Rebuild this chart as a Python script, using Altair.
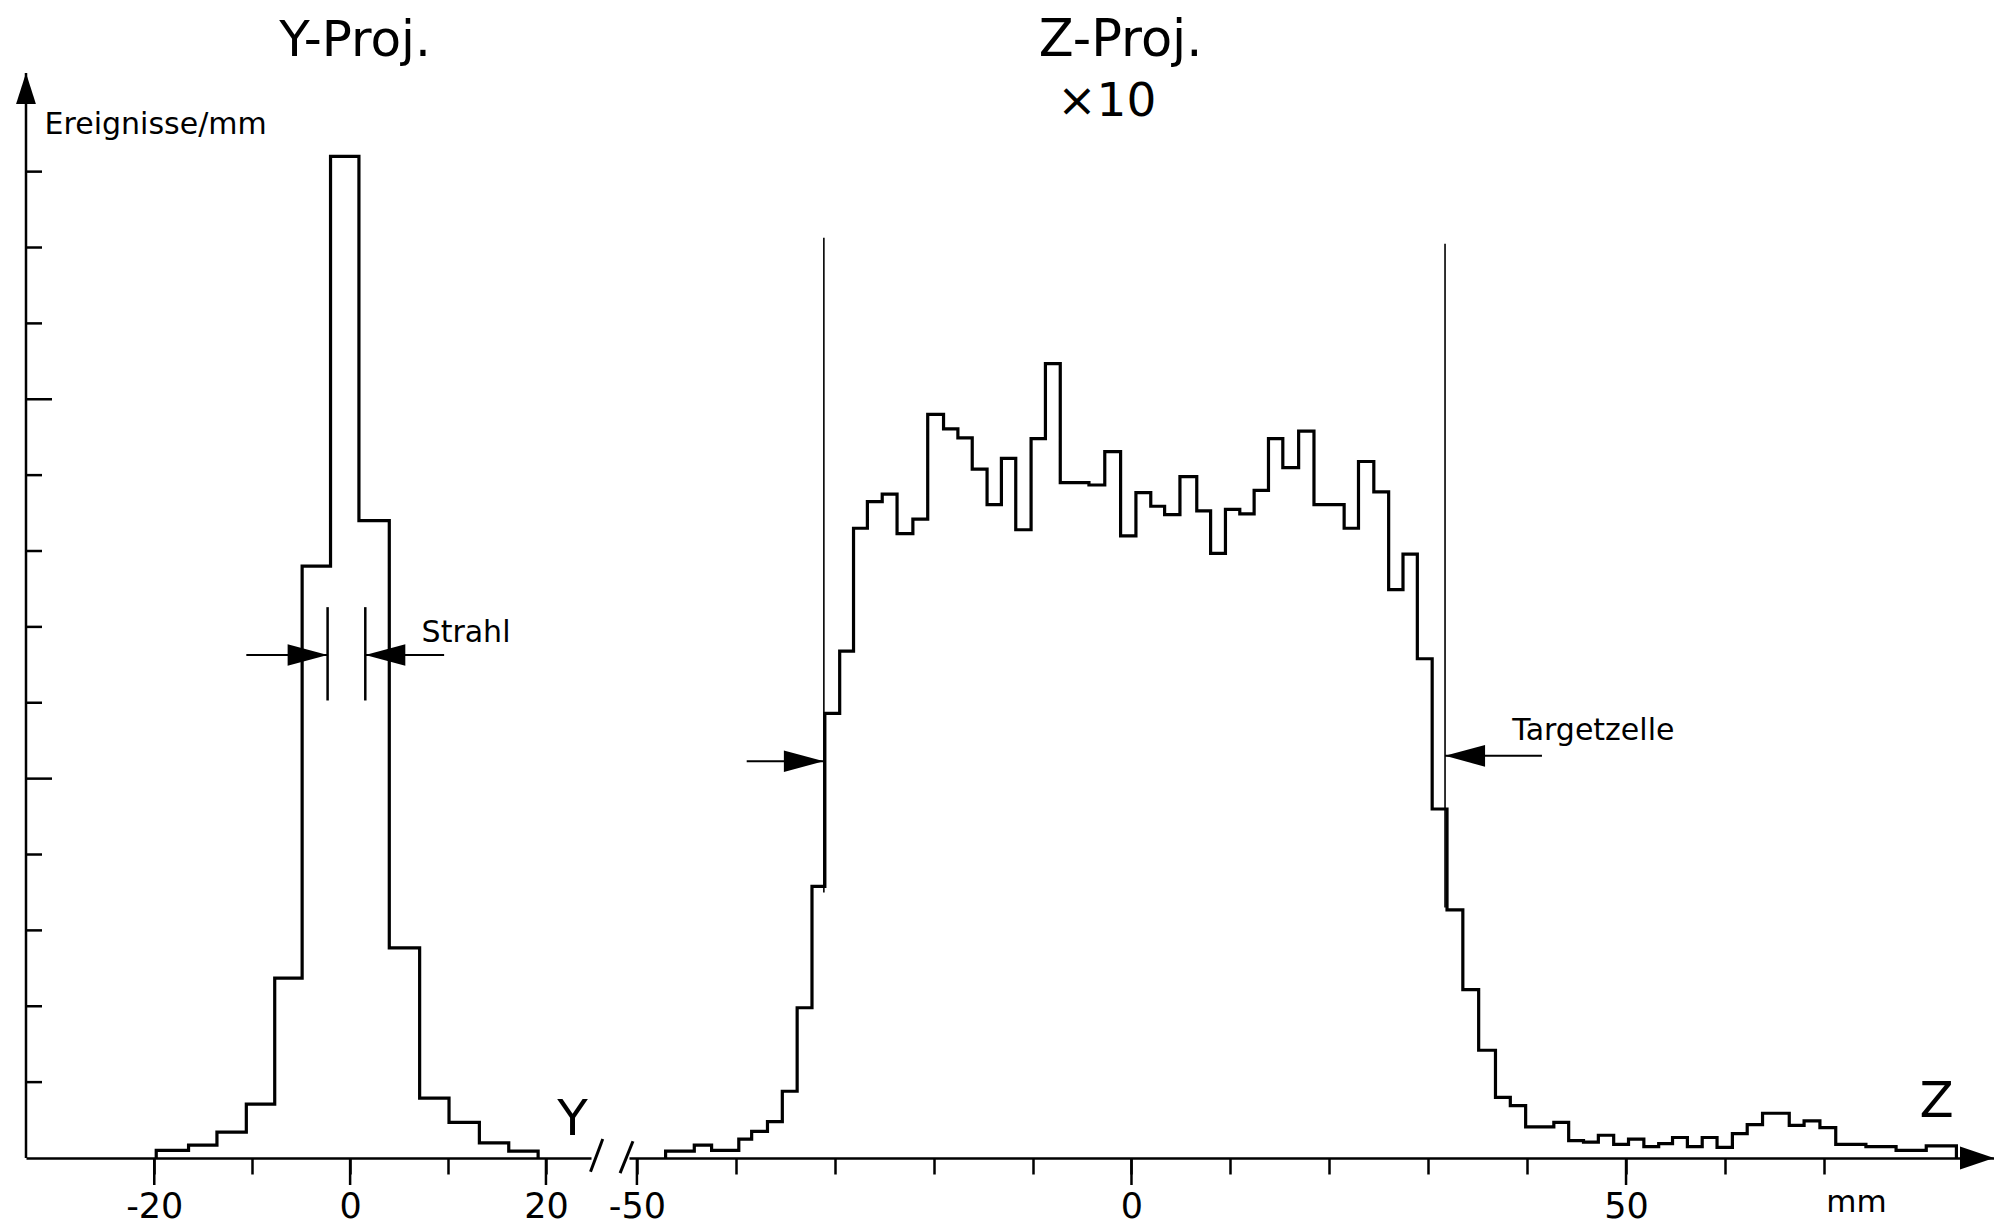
import altair as alt
import pandas as pd

FONT = "DejaVu Sans"

# ---------------- data ----------------
# Y projection: bin edges (mm) and heights (axis-tick units)
y_edges = [-19.8, -16.5, -13.6, -10.6, -7.7, -4.9, -2.0, 0.9, 4.0, 7.1, 10.1, 13.2, 16.2, 19.2]
y_counts = [0.10, 0.17, 0.34, 0.71, 2.37, 7.80, 13.2, 8.40, 2.77, 0.79, 0.47, 0.20, 0.09]

# Z projection (x10): bin edges (mm) and heights
z_edges = [-47.1, -45.6, -44.2, -42.45, -41.0, -39.7, -38.4, -36.8, -35.3, -33.8,
           -32.3, -31.0, -29.5, -28.1, -26.7, -25.2, -23.7, -22.1, -20.6, -19.0,
           -17.55, -16.1, -14.6, -13.15, -11.7, -10.15, -8.7, -7.2, -5.75, -4.3,
           -2.7, -1.1, 0.45, 1.95, 3.35, 4.9, 6.6, 8.0, 9.5, 10.95,
           12.4, 13.85, 15.3, 16.9, 18.45, 20.0, 21.5, 22.95, 24.5, 26.0,
           27.45, 28.9, 30.4, 31.9, 33.5, 35.1, 36.8, 38.3, 39.85, 41.3,
           42.7, 44.2, 45.7, 47.2, 48.75, 50.25, 51.8, 53.3, 54.7, 56.2,
           57.7, 59.2, 60.75, 62.25, 63.8, 65.15, 66.5, 68.0, 69.6, 71.2,
           72.7, 74.25, 75.8, 77.3, 78.8, 80.35, 81.85, 83.4]
z_counts = [0.09, 0.09, 0.17, 0.10, 0.10, 0.25, 0.35, 0.48, 0.88, 1.98,
            3.58, 5.86, 6.68, 8.30, 8.65, 8.75, 8.23, 8.42, 9.80, 9.61,
            9.49, 9.08, 8.61, 9.22, 8.28, 9.48, 10.47, 8.90, 8.90, 8.87,
            9.31, 8.20, 8.77, 8.59, 8.48, 8.98, 8.53, 7.97, 8.55, 8.49,
            8.80, 9.48, 9.10, 9.58, 8.61, 8.61, 8.30, 9.18, 8.78, 7.49,
            7.96, 6.58, 4.60, 3.27, 2.22, 1.42, 0.80, 0.69, 0.41, 0.41,
            0.47, 0.23, 0.21, 0.30, 0.18, 0.25, 0.15, 0.19, 0.27, 0.15,
            0.27, 0.14, 0.32, 0.44, 0.59, 0.59, 0.43, 0.49, 0.40, 0.18,
            0.18, 0.15, 0.15, 0.10, 0.10, 0.16, 0.16]

# axis ticks
vert_ticks_short = [1, 2, 3, 4, 6, 7, 8, 9, 11, 12, 13]
vert_ticks_long = [5, 10]
y_proj_ticks = [-20, -10, 0, 10, 20]
y_proj_labels = [-20, 0, 20]
z_proj_ticks = [-50, -40, -30, -20, -10, 0, 10, 20, 30, 40, 50, 60, 70]
z_proj_labels = [-50, 0, 50]

# annotations
strahl_lines = [-2.3, 1.55]
strahl_arrow_from = [-10.6, 9.6]
target_lines = [-31.1, 31.7]
target_tops = [12.13, 12.05]
target_bottoms = [3.5, 3.3]
target_arrow_from = [-38.9, 41.5]
target_arrow_y = [5.23, 5.30]

# ---------------- layout constants ----------------
W1, W2, H = 565, 1365, 1085
GAP = 38
Y_DOM = [-33.1, 24.6]
Z_DOM = [-50.8, 87.2]
V_DOM = [0, 14.3]

RIGHT_HEAD = "M0,0L-1,-0.27L-1,0.27Z"
LEFT_HEAD = "M0,0L1,-0.27L1,0.27Z"
UP_HEAD = "M0,0L-0.32,1L0.32,1Z"
AXIS_RIGHT_HEAD = "M0,0L-1,-0.34L-1,0.34Z"


def outline(edges, counts):
    xs = [edges[0]] + edges[:-1] + [edges[-1]]
    vs = [0.0] + counts + [0.0]
    return pd.DataFrame({"x": xs, "v": vs, "i": list(range(len(xs)))})


one = pd.DataFrame({"k": [0]})
xs1 = alt.Scale(domain=Y_DOM, nice=False, zero=False)
xs2 = alt.Scale(domain=Z_DOM, nice=False, zero=False)
vs = alt.Scale(domain=V_DOM, nice=False, zero=False)


def x_axis(values, every):
    return alt.Axis(
        values=values,
        labelExpr=f"datum.value % {every} == 0 ? '' + datum.value : ''",
        title=None, grid=False,
        domainColor="black", domainWidth=2.5,
        tickColor="black", tickWidth=2.5, tickSize=16,
        labelFont=FONT, labelFontSize=35, labelColor="black", labelPadding=15,
        labelFlush=False, labelOverlap=False, labelBound=False,
    )


def long_ticks(vals):
    return alt.Chart(pd.DataFrame({"t": vals})).mark_rule(color="black", strokeWidth=2.5).encode(
        x="t:Q", y=alt.value(H), y2=alt.value(H + 27)
    )


def text(df_x, y, s, size, align="center"):
    return alt.Chart(one).mark_text(
        text=s, font=FONT, fontSize=size, color="black", align=align, baseline="middle"
    ).encode(x=alt.datum(df_x), y=alt.datum(y))


def head(shape, size, x, y):
    return alt.Chart(one).mark_point(
        shape=shape, filled=True, size=size, color="black", opacity=1, strokeWidth=0
    ).encode(x=alt.datum(x), y=alt.datum(y))


# ---------------- Y projection panel ----------------
y_hist = alt.Chart(outline(y_edges, y_counts)).mark_line(
    interpolate="step-after", color="black", strokeWidth=3.2
).encode(
    x=alt.X("x:Q", scale=xs1, axis=x_axis(y_proj_ticks, 20)),
    y=alt.Y("v:Q", scale=vs, axis=None),
    order="i:Q",
)

anchor = alt.Chart(one).mark_rect(opacity=0).encode(
    x=alt.value(-25.4), x2=alt.value(0), y=alt.value(-72.5), y2=alt.value(0)
)

v_axis_line = alt.Chart(one).mark_rule(color="black", strokeWidth=2.5).encode(
    x=alt.value(0), y=alt.datum(V_DOM[0]), y2=alt.datum(V_DOM[1])
)
v_ticks_s = alt.Chart(pd.DataFrame({"t": vert_ticks_short})).mark_rule(color="black", strokeWidth=2.5).encode(
    y="t:Q", x=alt.value(0), x2=alt.value(16)
)
v_ticks_l = alt.Chart(pd.DataFrame({"t": vert_ticks_long})).mark_rule(color="black", strokeWidth=2.5).encode(
    y="t:Q", x=alt.value(0), x2=alt.value(26)
)
v_arrow = alt.Chart(one).mark_point(
    shape=UP_HEAD, filled=True, size=3844, color="black", opacity=1, strokeWidth=0
).encode(x=alt.value(0), y=alt.datum(V_DOM[1]))

s_lines = alt.Chart(pd.DataFrame({"x": strahl_lines})).mark_rule(color="black", strokeWidth=2.5).encode(
    x="x:Q", y=alt.datum(6.03), y2=alt.datum(7.26)
)
s_shafts = alt.Chart(pd.DataFrame({"a": strahl_arrow_from, "b": strahl_lines})).mark_rule(
    color="black", strokeWidth=2
).encode(x="a:Q", x2="b:Q", y=alt.datum(6.63))

break1 = alt.Chart(one).mark_rule(color="black", strokeWidth=3).encode(
    x=alt.datum(24.55), x2=alt.datum(25.8), y=alt.datum(-0.18), y2=alt.datum(0.25)
)

left = alt.layer(
    y_hist, anchor, long_ticks(y_proj_labels), v_axis_line, v_ticks_s, v_ticks_l, v_arrow,
    s_lines, s_shafts,
    head(RIGHT_HEAD, 6400, strahl_lines[0], 6.63),
    head(LEFT_HEAD, 6400, strahl_lines[1], 6.63),
    break1,
    text(7.3, 6.92, "Strahl", 30, "left"),
    text(-31.2, 13.62, "Ereignisse/mm", 30, "left"),
    text(0.5, 14.72, "Y-Proj.", 50),
    text(22.7, 0.5, "Y", 50),
).properties(width=W1, height=H)

# ---------------- Z projection panel ----------------
z_hist = alt.Chart(outline(z_edges, z_counts)).mark_line(
    interpolate="step-after", color="black", strokeWidth=3.2
).encode(
    x=alt.X("x:Q", scale=xs2, axis=x_axis(z_proj_ticks, 50)),
    y=alt.Y("v:Q", scale=vs, axis=None),
    order="i:Q",
)

t_lines = alt.Chart(pd.DataFrame({"x": target_lines, "t": target_tops, "b": target_bottoms})).mark_rule(
    color="black", strokeWidth=1.6
).encode(x="x:Q", y="t:Q", y2="b:Q")
t_shafts = alt.Chart(pd.DataFrame({"a": target_arrow_from, "b": target_lines, "y": target_arrow_y})).mark_rule(
    color="black", strokeWidth=2
).encode(x="a:Q", x2="b:Q", y="y:Q")

break2 = alt.Chart(one).mark_rule(color="black", strokeWidth=3).encode(
    x=alt.datum(-51.7), x2=alt.datum(-50.4), y=alt.datum(-0.2), y2=alt.datum(0.22)
)

right = alt.layer(
    z_hist, long_ticks(z_proj_labels), t_lines, t_shafts,
    head(RIGHT_HEAD, 6400, target_lines[0], target_arrow_y[0]),
    head(LEFT_HEAD, 6400, target_lines[1], target_arrow_y[1]),
    head(AXIS_RIGHT_HEAD, 4624, Z_DOM[1], 0),
    break2,
    text(38.5, 5.63, "Targetzelle", 30, "left"),
    text(-1.1, 14.72, "Z-Proj.", 51),
    text(-2.5, 13.92, "×10", 47),
    text(81.4, 0.74, "Z", 50),
    text(73.3, -0.59, "mm", 31),
).properties(width=W2, height=H)

chart = alt.hconcat(left, right, spacing=GAP, bounds="flush").properties(
    padding=0, background="white"
).configure_view(stroke="transparent", strokeWidth=0)

chart.save("out.html", embed_options={"renderer": "svg", "actions": False})
